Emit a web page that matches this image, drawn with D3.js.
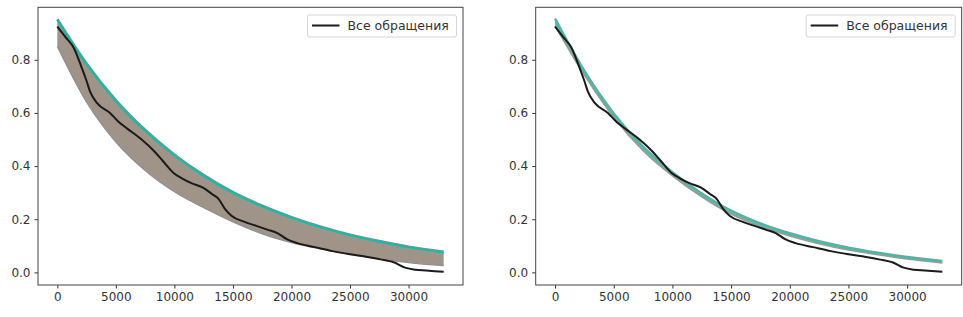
<!DOCTYPE html>
<html>
<head>
<meta charset="utf-8">
<script src="https://cdn.jsdelivr.net/npm/d3@7"></script>
<style>
  body { margin: 0; background: #fff; }
  svg { display: block; font-family: "DejaVu Sans", sans-serif; }
</style>
</head>
<body>
<div id="chart"></div>
<script>
// sample points for the fitted curve bands
var bandX = [0, 2500, 5000, 7500, 10000, 12500, 15000, 17500, 20000, 22500, 25000, 27500, 30000, 33000];

// left: wide family of curves (upper teal edge, lower edge)
var leftUpper = [0.952, 0.785, 0.647, 0.535, 0.442, 0.365, 0.301, 0.25, 0.207, 0.171, 0.141, 0.117, 0.096, 0.077];
var leftLower = [0.85, 0.64, 0.49, 0.383, 0.303, 0.243, 0.19, 0.145, 0.112, 0.088, 0.068, 0.051, 0.037, 0.025];

// right: narrow family of curves
var rightUpper = [0.955, 0.758, 0.598, 0.473, 0.377, 0.297, 0.232, 0.184, 0.147, 0.117, 0.093, 0.074, 0.058, 0.043];
var rightLower = [0.928, 0.742, 0.583, 0.458, 0.363, 0.284, 0.219, 0.172, 0.137, 0.108, 0.084, 0.066, 0.050, 0.035];

// "Все обращения"
var allX = [0, 700, 1400, 2000, 2500, 2800, 3400, 4500, 5200, 6000, 7200, 8300, 9000, 9900, 10600, 11500, 12400, 13200, 13800, 14300, 14900, 16000, 17000, 18000, 18800, 19600, 20500, 22000, 23500, 25000, 26500, 27700, 28800, 29700, 30600, 31500, 33000];
var allValues = [0.925, 0.885, 0.845, 0.78, 0.72, 0.68, 0.637, 0.6, 0.568, 0.54, 0.5, 0.455, 0.42, 0.375, 0.355, 0.335, 0.32, 0.295, 0.275, 0.24, 0.212, 0.19, 0.175, 0.16, 0.148, 0.125, 0.11, 0.095, 0.08, 0.068, 0.058, 0.048, 0.037, 0.018, 0.01, 0.007, 0.002];

var xTicks = [0, 5000, 10000, 15000, 20000, 25000, 30000];
var yTicks = [0, 0.2, 0.4, 0.6, 0.8];
var legendLabel = "Все обращения";

var width = 963,
    height = 317;

var svg = d3.select("#chart")
  .append("svg")
    .attr("width", width)
    .attr("height", height);

function drawPanel(left, right, upper, lower, style) {
  var top = 7.3, bottom = 285;

  var x = d3.scaleLinear()
      .domain([-1650, 34650])
      .range([left, right]);
  var y = d3.scaleLinear()
      .domain([-0.0475, 0.9975])
      .range([bottom, top]);

  var g = svg.append("g");

  var band = bandX.map(function(d, i) { return {x: d, hi: upper[i], lo: lower[i]}; });

  g.append("path")
      .datum(band)
      .attr("d", d3.area()
        .curve(d3.curveMonotoneX)
        .x(function(d) { return x(d.x); })
        .y0(function(d) { return y(d.lo); })
        .y1(function(d) { return y(d.hi); }))
      .attr("fill", style.fill);

  g.append("path")
      .datum(band)
      .attr("d", d3.line()
        .curve(d3.curveMonotoneX)
        .x(function(d) { return x(d.x); })
        .y(function(d) { return y(d.lo); }))
      .attr("fill", "none")
      .attr("stroke", style.lowStroke)
      .attr("stroke-width", style.lowWidth);

  g.append("path")
      .datum(band)
      .attr("d", d3.line()
        .curve(d3.curveMonotoneX)
        .x(function(d) { return x(d.x); })
        .y(function(d) { return y(d.hi); }))
      .attr("fill", "none")
      .attr("stroke", style.highStroke)
      .attr("stroke-width", style.highWidth);

  g.append("path")
      .datum(allX.map(function(d, i) { return {x: d, v: allValues[i]}; }))
      .attr("d", d3.line()
        .curve(d3.curveMonotoneX)
        .x(function(d) { return x(d.x); })
        .y(function(d) { return y(d.v); }))
      .attr("fill", "none")
      .attr("stroke", "#1a1a1a")
      .attr("stroke-width", 2);

  // axes
  var xAxis = g.append("g")
      .attr("transform", "translate(0," + bottom + ")")
      .call(d3.axisBottom(x).tickValues(xTicks).tickSize(3.5).tickPadding(4).tickFormat(d3.format("d")));
  var yAxis = g.append("g")
      .attr("transform", "translate(" + left + ",0)")
      .call(d3.axisLeft(y).tickValues(yTicks).tickSize(3.5).tickPadding(4).tickFormat(d3.format(".1f")));

  [xAxis, yAxis].forEach(function(a) {
    a.select(".domain").remove();
    a.selectAll("line").attr("stroke", "#333");
    a.selectAll("text")
      .attr("fill", "#333")
      .style("font-family", "'DejaVu Sans', sans-serif")
      .style("font-size", "12px");
  });

  g.append("rect")
      .attr("x", left)
      .attr("y", top)
      .attr("width", right - left)
      .attr("height", bottom - top)
      .attr("fill", "none")
      .attr("stroke", "#444")
      .attr("stroke-width", 1);

  // legend
  var lw = 149, lx = right - 6.5 - lw, ly = 15;
  g.append("rect")
      .attr("x", lx)
      .attr("y", ly)
      .attr("width", lw)
      .attr("height", 22)
      .attr("rx", 2)
      .attr("fill", "#fff")
      .attr("stroke", "#d6d6d6");
  g.append("line")
      .attr("x1", lx + 4.5)
      .attr("x2", lx + 32)
      .attr("y1", ly + 10.5)
      .attr("y2", ly + 10.5)
      .attr("stroke", "#1a1a1a")
      .attr("stroke-width", 2);
  g.append("text")
      .attr("x", lx + 40)
      .attr("y", ly + 15)
      .attr("fill", "#333")
      .style("font-size", "12.5px")
      .text(legendLabel);
}

drawPanel(38, 463, leftUpper, leftLower,
  {fill: "#a09489", lowStroke: "#8a9096", lowWidth: 1.2, highStroke: "#2fb0a0", highWidth: 3});
drawPanel(535.7, 961.7, rightUpper, rightLower,
  {fill: "#80ada3", lowStroke: "#9a9a92", lowWidth: 1.5, highStroke: "#4db6a6", highWidth: 2.5});
</script>
</body>
</html>
